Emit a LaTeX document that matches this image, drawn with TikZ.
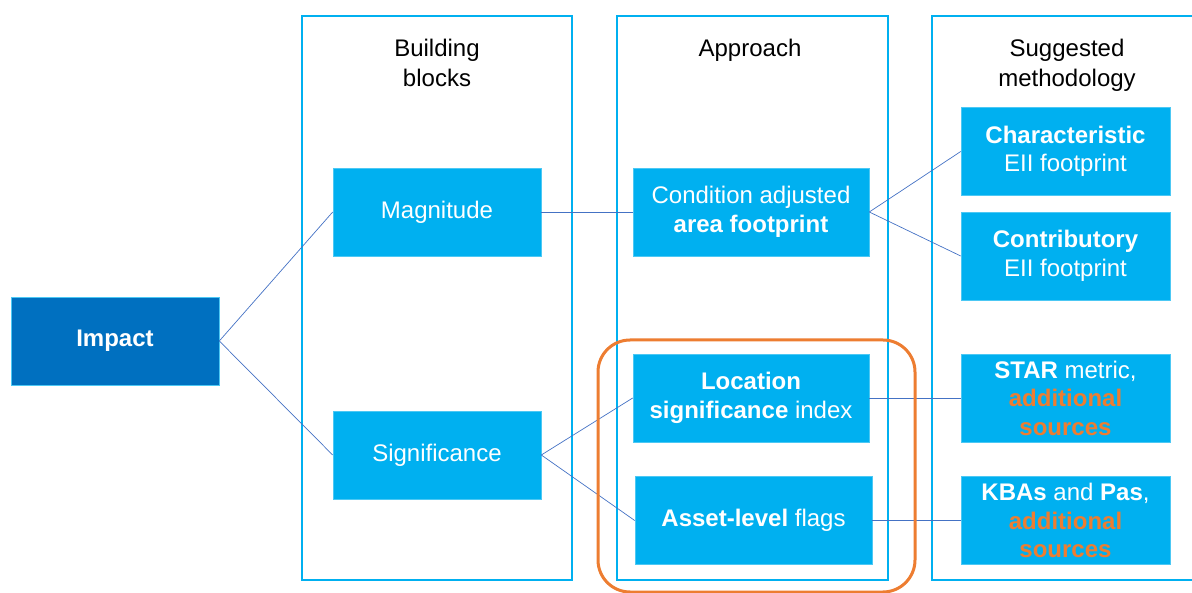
\documentclass[tikz,border=0pt]{standalone}
\usepackage{fontspec}
\setmainfont{Liberation Sans}
\usetikzlibrary{positioning}
\definecolor{boxblue}{HTML}{00B0F0}
\definecolor{darkblue}{HTML}{0070C0}
\definecolor{linkblue}{HTML}{4472C4}
\definecolor{hilite}{HTML}{ED7D31}
\tikzset{>=stealth,
    blockbox/.style={fill=boxblue, draw=boxblue!70!white, line width=0.6pt, text=white, align=center,
        inner sep=0pt, minimum height=88, font=\fontsize{24}{28.5}\selectfont},
    headtext/.style={anchor=north, align=center, inner sep=0pt, font=\fontsize{24}{29.5}\selectfont},
    colframe/.style={draw=boxblue, line width=1.5pt},
    link/.style={draw=linkblue, line width=0.7pt}
}

\begin{document}
\begin{tikzpicture}[x=1pt, y=-1pt]
    \useasboundingbox (0,0) rectangle (1192,593);
    \draw[colframe] (302,16) rectangle (572,580);
    \draw[colframe] (617,16) rectangle (888,580);
    \draw[colframe] (932,16) rectangle (1210,580);
    \node[headtext] (hblocks) at (437,39) {Building\\blocks};
    \node[headtext] (happroach) at (750,39) {Approach};
    \node[headtext] (hmethod) at (1067,39) {Suggested\\methodology};
    \node[blockbox, fill=darkblue, minimum width=208] (impact) at (115,341) {\textbf{Impact}};
    \node[blockbox, minimum width=208] (magnitude) at (437,212) {Magnitude};
    \node[blockbox, minimum width=208] (signif) at (437,455) {Significance};
    \node[blockbox, minimum width=236] (condition) at (751,212) {Condition adjusted\\\textbf{area footprint}};
    \node[blockbox, minimum width=236] (location) at (751,398) {\textbf{Location}\\\textbf{significance} index};
    \node[blockbox, minimum width=237] (asset) at (753.5,520.5) {\textbf{Asset-level} flags};
    \node[blockbox, minimum width=209] (charact) at (1065.5,151.5) {\textbf{Characteristic}\\EII footprint};
    \node[blockbox, minimum width=209] (contrib) at (1065.5,256) {\textbf{Contributory}\\EII footprint};
    \node[blockbox, minimum width=209] (star) at (1065.5,398) {\textbf{STAR} metric,\\\textcolor{hilite}{\textbf{additional}}\\\textcolor{hilite}{\textbf{sources}}};
    \node[blockbox, minimum width=209] (kbas) at (1065.5,520.5) {\textbf{KBAs} and \textbf{Pas},\\\textcolor{hilite}{\textbf{additional}}\\\textcolor{hilite}{\textbf{sources}}};
    \draw[link] (impact.east) -- (magnitude.west);
    \draw[link] (impact.east) -- (signif.west);
    \draw[link] (magnitude.east) -- (condition.west);
    \draw[link] (signif.east) -- (location.west);
    \draw[link] (signif.east) -- (asset.west);
    \draw[link] (condition.east) -- (charact.west);
    \draw[link] (condition.east) -- (contrib.west);
    \draw[link] (location.east) -- (star.west);
    \draw[link] (asset.east) -- (kbas.west);
    \draw[hilite, line width=3pt, rounded corners=32] (598,340) rectangle (915,592);
\end{tikzpicture}
\end{document}
